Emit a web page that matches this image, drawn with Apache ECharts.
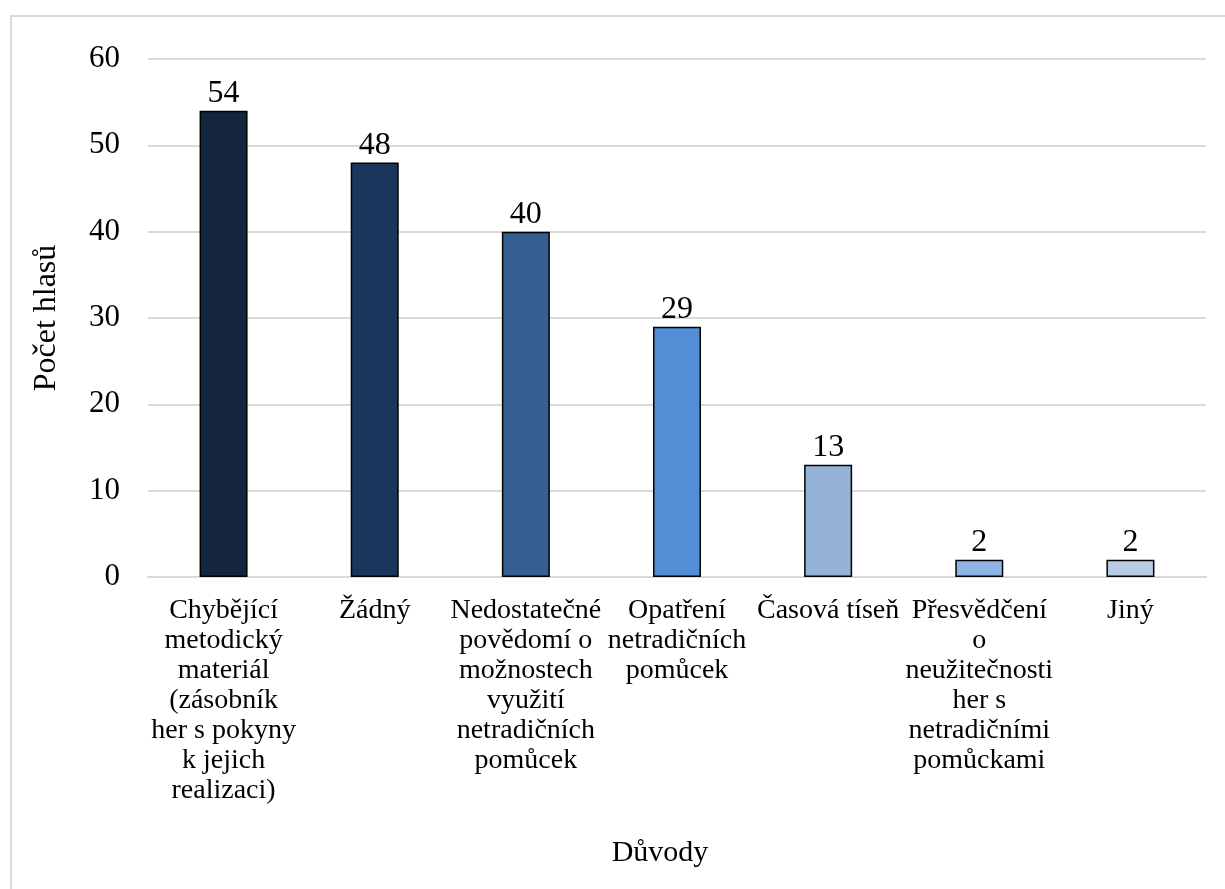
<!DOCTYPE html>
<html>
<head>
<meta charset="utf-8">
<script src="https://cdn.jsdelivr.net/npm/echarts@6/dist/echarts.min.js"></script>
<style>
html,body{margin:0;padding:0;background:#fff;}
#chart{width:1225px;height:889px;}
</style>
</head>
<body>
<div id="chart"></div>
<script>
var categories = [
  "Chybějící\nmetodický\nmateriál\n(zásobník\nher s pokyny\nk jejich\nrealizaci)",
  "Žádný",
  "Nedostatečné\npovědomí o\nmožnostech\nvyužití\nnetradičních\npomůcek",
  "Opatření\nnetradičních\npomůcek",
  "Časová tíseň",
  "Přesvědčení\no\nneužitečnosti\nher s\nnetradičními\npomůckami",
  "Jiný"
];
var values = [54, 48, 40, 29, 13, 2, 2];
var barColors = ["#13253F", "#1A365D", "#365F91", "#538DD5", "#95B3D7", "#8DB4E2", "#B8CCE4"];
var yTicks = [0, 10, 20, 30, 40, 50, 60];

var font = "'Liberation Serif', 'Times New Roman', serif";
var chart = echarts.init(document.getElementById('chart'), null, {renderer: 'canvas'});
chart.setOption({
  animation: false,
  backgroundColor: '#fff',
  graphic: [{
    type: 'rect',
    shape: {x: 11, y: 16, width: 1300, height: 1000},
    style: {fill: 'none', stroke: '#d9d9d9', lineWidth: 2},
    silent: true
  }],
  grid: {left: 148, right: 19, top: 59, bottom: 312, containLabel: false},
  xAxis: {
    type: 'category',
    data: categories,
    name: 'Důvody',
    nameLocation: 'middle',
    nameGap: 261,
    nameTextStyle: {fontFamily: font, fontSize: 30, color: '#000', padding: [0, 34, 0, 0]},
    axisLine: {show: true, lineStyle: {color: '#d9d9d9', width: 2}},
    axisTick: {show: false},
    axisLabel: {
      interval: 0,
      margin: 19,
      fontFamily: font,
      fontSize: 28,
      lineHeight: 30,
      color: '#000',
      align: 'center',
      verticalAlign: 'top'
    }
  },
  yAxis: {
    type: 'value',
    min: yTicks[0],
    max: yTicks[yTicks.length - 1],
    interval: 10,
    name: 'Počet hlasů',
    nameLocation: 'middle',
    nameGap: 85,
    nameRotate: 90,
    nameTextStyle: {fontFamily: font, fontSize: 32, color: '#000'},
    axisLine: {show: false},
    axisTick: {show: false},
    axisLabel: {margin: 28, fontFamily: font, fontSize: 31, color: '#000'},
    splitLine: {show: true, lineStyle: {color: '#d9d9d9', width: 2}}
  },
  series: [{
    type: 'bar',
    barWidth: 48,
    data: values.map(function (v, i) {
      return {value: v, itemStyle: {color: barColors[i], borderColor: '#000', borderWidth: 1.5}};
    }),
    label: {
      show: true,
      position: 'top',
      distance: 1,
      fontFamily: font,
      fontSize: 32,
      color: '#000'
    }
  }]
});
</script>
</body>
</html>
